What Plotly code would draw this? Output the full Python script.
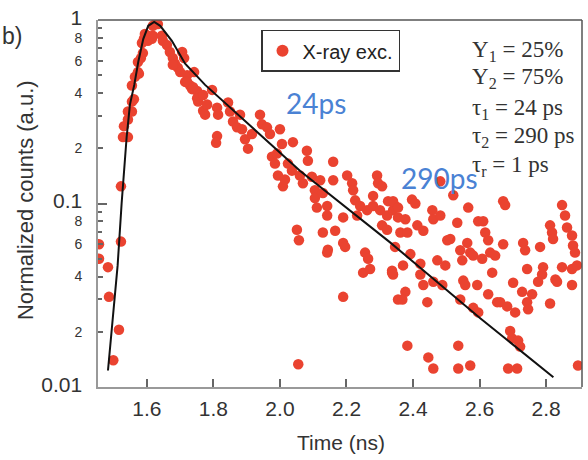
import plotly.graph_objects as go

# Measured decay (normalized counts) under X-ray excitation
time_ns = [
    1.499, 1.516, 1.486, 1.456, 1.456, 1.483, 1.522, 1.522, 1.528, 1.543,
    1.531, 1.543, 1.543, 1.555, 1.555, 1.561, 1.555, 1.564, 1.573, 1.576,
    1.573, 1.582, 1.588, 1.585, 1.591, 1.603, 1.615, 1.603, 1.618, 1.594,
    1.627, 1.633, 1.618, 1.645, 1.648, 1.660, 1.669, 1.678, 1.684, 1.693,
    1.706, 1.712, 1.721, 1.715, 1.730, 1.742, 1.736, 1.751, 1.754, 1.769,
    1.678, 1.700, 1.721, 1.739, 1.751,
    1.769, 1.781, 1.796, 1.775, 1.811, 1.814, 1.811, 1.808, 1.844, 1.850,
    1.859, 1.871, 1.880, 1.886, 1.895, 1.904, 1.916, 1.940, 1.946, 1.961,
    1.970, 2.000, 2.006, 1.976, 1.985, 1.994, 2.009, 2.024, 2.039, 2.036,
    2.060, 2.069, 2.081, 2.084, 2.096, 2.105, 2.105, 2.111, 2.129, 2.142,
    2.142, 2.121, 2.160, 2.160, 2.166, 2.190, 2.129, 2.142, 2.144, 2.190,
    2.196, 2.051, 2.057, 2.190, 2.055, 2.202, 2.217, 2.220, 2.226, 2.241,
    2.262, 2.280, 2.292, 2.295, 2.280, 2.307, 2.301, 2.322, 2.325, 2.340,
    2.346, 2.307, 2.322, 2.232, 2.256, 2.265, 2.250, 2.271, 2.337, 2.340,
    2.355, 2.346, 1.991, 2.015,
    2.482, 2.521, 2.566, 2.340, 2.355, 2.355, 2.397, 2.407, 2.377, 2.362,
    2.383, 2.413, 2.431, 2.458, 2.461, 2.482, 2.533, 2.337, 2.370, 2.392,
    2.422, 2.422, 2.431, 2.377, 2.368, 2.443, 2.461, 2.488, 2.473, 2.497,
    2.503, 2.512, 2.542, 2.548, 2.563, 2.572, 2.581, 2.596, 2.611, 2.617,
    2.626, 2.608, 2.632, 2.647, 2.638, 2.551, 2.557, 2.593, 2.542, 2.581,
    2.596, 2.626, 2.653, 2.662, 2.683, 2.707, 2.671, 2.677, 2.671, 2.731,
    2.737, 2.782, 2.743, 2.791, 2.788, 2.776, 2.701, 2.728, 2.758, 2.743,
    2.746, 2.812, 2.828, 2.812, 2.818, 2.821, 2.848, 2.857, 2.863, 2.878,
    2.881, 2.887, 2.848, 2.878, 2.893, 2.878, 2.833, 2.692, 2.698, 2.716,
    2.722, 2.383, 2.446, 2.461, 2.536, 2.536, 2.572, 2.686, 2.713, 2.896,
]
counts = [
    0.014, 0.0205, 0.031, 0.050, 0.060, 0.045, 0.062, 0.124, 0.23, 0.23,
    0.264, 0.287, 0.317, 0.317, 0.359, 0.37, 0.44, 0.49, 0.52, 0.51,
    0.59, 0.62, 0.66, 0.75, 0.79, 0.77, 0.79, 0.82, 0.82, 0.84,
    0.96, 0.95, 0.93, 0.82, 0.77, 0.73, 0.67, 0.62, 0.58, 0.55,
    0.67, 0.62, 0.50, 0.46, 0.44, 0.52, 0.42, 0.41, 0.36, 0.32,
    0.57, 0.52, 0.46, 0.43, 0.375,
    0.39, 0.346, 0.416, 0.305, 0.333, 0.305, 0.233, 0.214, 0.355, 0.317,
    0.28, 0.26, 0.305, 0.254, 0.224, 0.199, 0.239, 0.305, 0.27, 0.26,
    0.239, 0.254, 0.211, 0.18, 0.165, 0.142, 0.124, 0.165, 0.216, 0.151,
    0.142, 0.129, 0.194, 0.171, 0.14, 0.118, 0.107, 0.095, 0.114, 0.097,
    0.086, 0.134, 0.169, 0.134, 0.071, 0.084, 0.0695, 0.054, 0.056, 0.061,
    0.058, 0.072, 0.063, 0.031, 0.0133, 0.142, 0.129, 0.118, 0.104, 0.097,
    0.092, 0.097, 0.142, 0.129, 0.110, 0.124, 0.092, 0.086, 0.103, 0.092,
    0.097, 0.076, 0.072, 0.086, 0.054, 0.050, 0.042, 0.044, 0.043, 0.041,
    0.030, 0.058, 0.187, 0.135,
    0.132, 0.111, 0.095, 0.103, 0.095, 0.084, 0.105, 0.10, 0.082, 0.0695,
    0.0695, 0.076, 0.071, 0.092, 0.082, 0.086, 0.0785, 0.042, 0.046, 0.053,
    0.047, 0.041, 0.036, 0.033, 0.030, 0.029, 0.0375, 0.036, 0.049, 0.046,
    0.063, 0.064, 0.0556, 0.049, 0.061, 0.054, 0.052, 0.080, 0.080, 0.0695,
    0.063, 0.050, 0.054, 0.052, 0.042, 0.038, 0.036, 0.036, 0.030, 0.027,
    0.0255, 0.032, 0.029, 0.029, 0.0275, 0.0255, 0.103, 0.098, 0.060, 0.061,
    0.0556, 0.058, 0.044, 0.045, 0.041, 0.0375, 0.037, 0.033, 0.032, 0.029,
    0.0265, 0.0285, 0.0385, 0.076, 0.0695, 0.064, 0.098, 0.086, 0.074, 0.067,
    0.059, 0.054, 0.045, 0.044, 0.046, 0.036, 0.0375, 0.0202, 0.0184, 0.0179,
    0.0166, 0.0168, 0.0145, 0.0126, 0.0168, 0.0126, 0.0131, 0.0126, 0.0126, 0.0131,
]

# Bi-exponential fit curve (vertices)
fit_time = [1.483, 1.512, 1.524, 1.539, 1.549, 1.562, 1.574, 1.589, 1.604,
            1.622, 1.640, 1.675, 1.715, 1.775, 2.060, 2.331, 2.602, 2.822]
fit_counts = [0.0123, 0.046, 0.10, 0.229, 0.346, 0.443, 0.59, 0.787, 0.93,
              0.975, 0.93, 0.77, 0.578, 0.443, 0.151, 0.0614, 0.0237, 0.0113]

x_ticks = [1.6, 1.8, 2.0, 2.2, 2.4, 2.6, 2.8]
x_labels = ["1.6", "1.8", "2.0", "2.2", "2.4", "2.6", "2.8"]
y_ticks = [0.01, 0.02, 0.04, 0.06, 0.08, 0.1, 0.2, 0.4, 0.6, 0.8, 1]
y_labels = ["0.01", "2", "4", "6", "8", "0.1", "2", "4", "6", "8", "1"]
y_minor = [0.03, 0.05, 0.07, 0.09, 0.3, 0.5, 0.7, 0.9]
y_decades = [0.01, 0.1, 1]

fit_params = [
    ("Y<sub>1</sub> = 25%", 45),
    ("Y<sub>2</sub> = 75%", 73),
    ("τ<sub>1</sub> = 24 ps", 104),
    ("τ<sub>2</sub> = 290 ps", 133),
    ("τ<sub>r</sub> = 1 ps", 162),
]

RED = "#EA4330"
FONT = "Liberation Sans, Arial, sans-serif"

big = 21
small = 14


def tick_text(label):
    size = big if label in ("0.01", "0.1", "1") else small
    return f'<span style="font-size:{size}px">{label}</span>'


fig = go.Figure()
fig.add_trace(go.Scatter(
    x=time_ns, y=counts, mode="markers", name="X-ray exc.",
    marker=dict(color=RED, size=10.5, line=dict(width=0)),
))
fig.add_trace(go.Scatter(
    x=fit_time, y=fit_counts, mode="lines", showlegend=False,
    line=dict(color="#111111", width=2),
))
# overlay axis carrying only the longer decade ticks
fig.add_trace(go.Scatter(x=[], y=[], yaxis="y2", showlegend=False))

L, R, T, B = 98, 6, 14, 73
W, H = 588, 460
pw, ph = W - L - R, H - T - B


def px(xp):
    return (xp - L) / pw


def py(yp):
    return (H - B - yp) / ph


fig.update_layout(
    width=W, height=H,
    margin=dict(l=L, r=R, t=T, b=B, pad=0),
    paper_bgcolor="white", plot_bgcolor="white",
    font=dict(family=FONT, color="#333333"),
    xaxis=dict(
        range=[1.453, 2.908], tickvals=x_ticks, ticktext=x_labels,
        ticks="inside", ticklen=8, tickwidth=1.5, tickcolor="#666666",
        tickfont=dict(size=21, color="#333333"),
        ticklabelstandoff=2,
        showline=True, linecolor="#999999", linewidth=2, mirror=False,
        showgrid=False, zeroline=False,
    ),
    yaxis=dict(
        type="log", range=[-2, 0],
        tickvals=y_ticks, ticktext=[tick_text(t) for t in y_labels],
        ticks="inside", ticklen=5, tickwidth=1.5, tickcolor="#666666",
        tickfont=dict(size=small, color="#333333"),
        ticklabelstandoff=11, ticklabeloverflow="allow",
        minor=dict(tickvals=y_minor, ticks="inside", ticklen=4,
                   tickcolor="#666666", tickwidth=1.5),
        showline=True, linecolor="#999999", linewidth=2, mirror=False,
        showgrid=False, zeroline=False,
    ),
    yaxis2=dict(
        type="log", range=[-2, 0], overlaying="y", side="left",
        tickvals=y_decades, showticklabels=False,
        ticks="inside", ticklen=9, tickwidth=1.5, tickcolor="#666666",
        showgrid=False, zeroline=False, showline=False,
    ),
    legend=dict(
        x=px(261), y=py(24), xanchor="left", yanchor="top",
        bgcolor="white", bordercolor="#333333", borderwidth=1.5,
        font=dict(size=20, color="#222222", family=FONT),
        itemsizing="constant", itemwidth=30,
        tracegroupgap=0,
    ),
    showlegend=True,
)

# top and right frame lines
fig.add_shape(type="line", xref="paper", yref="paper", x0=0, x1=1, y0=1, y1=1,
              line=dict(color="#555555", width=1.5))
fig.add_shape(type="line", xref="paper", yref="paper", x0=1, x1=1, y0=0, y1=1,
              line=dict(color="#555555", width=1.5))

annotations = []
for text, yc in fit_params:
    annotations.append(dict(
        text=text, xref="paper", yref="paper", x=px(470), y=py(yc),
        xanchor="left", yanchor="middle", showarrow=False,
        font=dict(family="Liberation Serif, Times New Roman, serif",
                  size=23, color="#333333"),
    ))

annotations += [
    dict(text="24ps", xref="paper", yref="paper", x=px(316), y=py(98),
         xanchor="center", yanchor="middle", showarrow=False,
         font=dict(family="Lato, Open Sans, sans-serif", size=28, color="#4A82D4")),
    dict(text="290ps", xref="paper", yref="paper", x=px(439), y=py(175),
         xanchor="center", yanchor="middle", showarrow=False,
         font=dict(family="Lato, Open Sans, sans-serif", size=28, color="#4A82D4")),
    dict(text="Normalized counts (a.u.)", xref="paper", yref="paper",
         x=px(25), y=py(197), textangle=-90, xanchor="center", yanchor="middle",
         showarrow=False, font=dict(size=22, color="#333333")),
    dict(text="Time (ns)", xref="paper", yref="paper", x=px(341), y=py(443),
         xanchor="center", yanchor="middle", showarrow=False,
         font=dict(size=21, color="#333333")),
    dict(text="b)", xref="paper", yref="paper", x=px(24), y=py(30),
         xanchor="right", yanchor="middle", showarrow=False,
         font=dict(size=23, color="#333333")),
]
fig.update_layout(annotations=annotations)

fig.write_html("out.html")
